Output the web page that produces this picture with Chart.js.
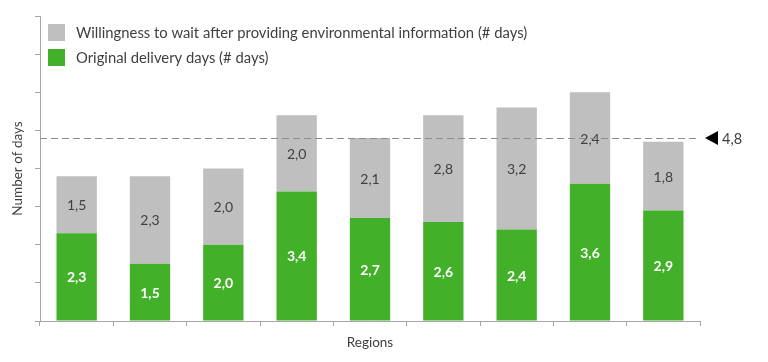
<!DOCTYPE html>
<html>
<head>
<meta charset="utf-8">
<script src="https://cdn.jsdelivr.net/npm/chart.js@4/dist/chart.umd.min.js"></script>
<style>
  html, body { margin: 0; padding: 0; background: #fff; }
  #wrap { width: 768px; height: 362px; position: relative; }
</style>
</head>
<body>
<div id="wrap"><canvas id="chart" width="768" height="362"></canvas></div>
<script>
const regions = ['R1', 'R2', 'R3', 'R4', 'R5', 'R6', 'R7', 'R8', 'R9'];
const originalDays = [2.3, 1.5, 2.0, 3.4, 2.7, 2.6, 2.4, 3.6, 2.9];
const extraWaitDays = [1.5, 2.3, 2.0, 2.0, 2.1, 2.8, 3.2, 2.4, 1.8];
const averageTotal = 4.8;
const seriesNames = [
    'Willingness to wait after providing environmental information (# days)',
    'Original delivery days (# days)'
];

const FONT = 'Lato, "Open Sans", sans-serif';
const TEXT = '#404040';
const GREEN = '#43b02a';
const GREY = '#bfbfbf';

const fmt = v => v.toFixed(1).replace('.', ',');

// segment labels inside the bars
const barLabels = {
    id: 'barLabels',
    afterDatasetsDraw(chart) {
        const ctx = chart.ctx;
        ctx.save();
        ctx.textAlign = 'center';
        ctx.textBaseline = 'middle';
        chart.data.datasets.forEach((ds, i) => {
            const meta = chart.getDatasetMeta(i);
            meta.data.forEach((bar, j) => {
                const y = (bar.y + bar.base) / 2;
                if (i === 0) {
                    ctx.fillStyle = '#fff';
                    ctx.font = 'bold 14px ' + FONT;
                } else {
                    ctx.fillStyle = TEXT;
                    ctx.font = '14px ' + FONT;
                }
                ctx.fillText(fmt(ds.data[j]), bar.x, y + 1);
            });
        });
        ctx.restore();
    }
};

// dashed average line, marker and legend inside the plot
const extras = {
    id: 'extras',
    afterDraw(chart) {
        const ctx = chart.ctx;
        const area = chart.chartArea;
        const y = chart.scales.y.getPixelForValue(averageTotal);
        ctx.save();
        ctx.strokeStyle = '#8c8c8c';
        ctx.lineWidth = 1;
        ctx.setLineDash([7, 4]);
        ctx.beginPath();
        ctx.moveTo(area.left, y + 0.5);
        ctx.lineTo(area.right, y + 0.5);
        ctx.stroke();
        ctx.setLineDash([]);

        ctx.fillStyle = '#000';
        ctx.beginPath();
        ctx.moveTo(area.right + 5, y);
        ctx.lineTo(area.right + 18, y - 7);
        ctx.lineTo(area.right + 18, y + 7);
        ctx.closePath();
        ctx.fill();

        ctx.fillStyle = TEXT;
        ctx.font = '14.5px ' + FONT;
        ctx.textAlign = 'left';
        ctx.textBaseline = 'middle';
        ctx.fillText(fmt(averageTotal), area.right + 22, y + 1);

        // legend
        ctx.font = '14.8px ' + FONT;
        const rows = [[GREY, seriesNames[0], 32], [GREEN, seriesNames[1], 57]];
        rows.forEach(([c, label, ly]) => {
            ctx.fillStyle = c;
            ctx.fillRect(48, ly - 8, 17, 17);
            ctx.fillStyle = TEXT;
            ctx.fillText(label, 76, ly + 1);
        });
        ctx.restore();
    }
};

new Chart(document.getElementById('chart'), {
    type: 'bar',
    data: {
        labels: regions,
        datasets: [
            {
                label: seriesNames[1],
                data: originalDays,
                backgroundColor: GREEN,
                categoryPercentage: 1,
                barPercentage: 0.55
            },
            {
                label: seriesNames[0],
                data: extraWaitDays,
                backgroundColor: GREY,
                categoryPercentage: 1,
                barPercentage: 0.55
            }
        ]
    },
    options: {
        responsive: false,
        animation: false,
        layout: { padding: { top: 16, right: 68, bottom: 11, left: 0 } },
        plugins: {
            legend: { display: false },
            tooltip: { enabled: false }
        },
        scales: {
            x: {
                stacked: true,
                border: { color: '#a6a6a6' },
                grid: {
                    offset: true,
                    drawOnChartArea: false,
                    tickLength: 5,
                    color: '#a6a6a6'
                },
                ticks: { display: false },
                title: {
                    display: true,
                    text: 'Regions',
                    color: TEXT,
                    font: { family: FONT, size: 13.5 },
                    padding: { top: 0, bottom: 0 }
                },
                afterFit(scale) { scale.height = 30; }
            },
            y: {
                stacked: true,
                min: 0,
                max: 8,
                border: { color: '#a6a6a6' },
                grid: {
                    drawOnChartArea: false,
                    tickLength: 5,
                    color: '#a6a6a6'
                },
                ticks: { display: false, stepSize: 1 },
                title: {
                    display: true,
                    text: 'Number of days',
                    color: TEXT,
                    font: { family: FONT, size: 13.5 },
                    padding: { top: 10, bottom: 0 }
                },
                afterFit(scale) { scale.width = 40; }
            }
        }
    },
    plugins: [barLabels, extras]
});
</script>
</body>
</html>
